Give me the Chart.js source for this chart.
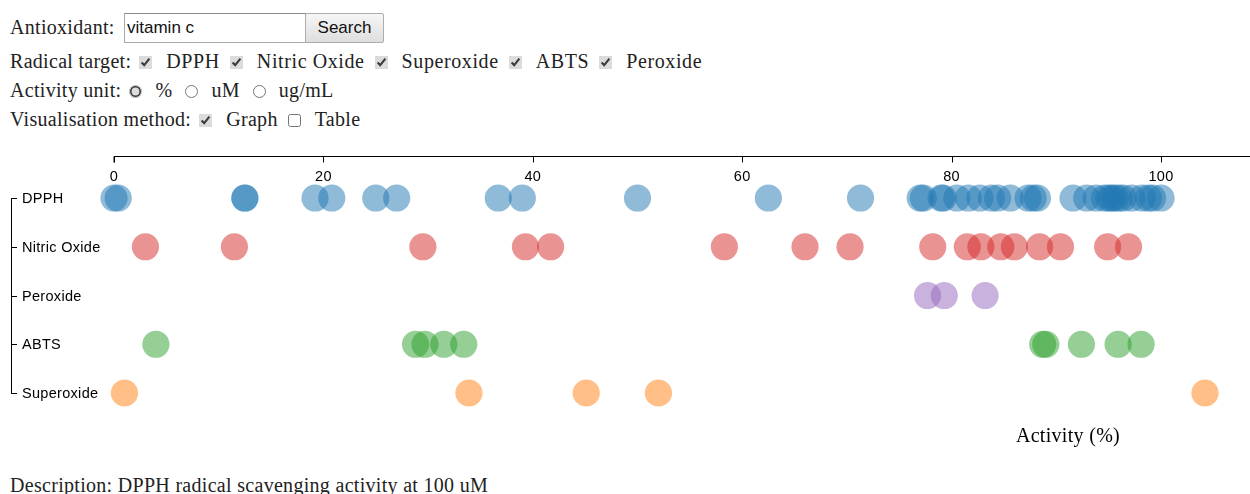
<!DOCTYPE html>
<html>
<head>
<meta charset="utf-8">
<script src="https://cdn.jsdelivr.net/npm/chart.js@4.4.0/dist/chart.umd.min.js"></script>
<style>
  body { margin: 0; background: #fff; color: #222; font-family: "Liberation Serif", "Times New Roman", serif; font-size: 20px; letter-spacing: 0.3px; }
  .row { position: absolute; left: 10px; white-space: nowrap; line-height: 23px; }
  .row input[type=checkbox], .row input[type=radio] {
    accent-color: #dcdcdc; width: 13px; height: 13px; margin: 0 14px 0 10px; vertical-align: -1px;
  }
  .row .opt { letter-spacing: 0.6px; }
  .row input[type=radio] { margin: 0 13px 0 13px; }
  .row input.first { margin-left: 8px; }
  #q { position: absolute; left: 124px; top: 13px; width: 182px; height: 30px; box-sizing: border-box; letter-spacing: 0;
       border: 1px solid #a9a9a9; border-top-color: #888; font: 17px "Liberation Sans", Arial, sans-serif; padding: 0 2px; color: #111; }
  #go { position: absolute; left: 305px; top: 13px; width: 79px; height: 30px; box-sizing: border-box; letter-spacing: 0;
        border: 1px solid #adadad; border-radius: 2px; background: linear-gradient(#f6f6f6, #dedede);
        font: 17px "Liberation Sans", Arial, sans-serif; color: #111; padding: 0; }
  #chartBox { position: absolute; left: 0; top: 140px; width: 1250px; height: 320px; }
  #desc { position: absolute; left: 10px; top: 474px; line-height: 23px; white-space: nowrap; }
</style>
</head>
<body>
<div class="row" style="top:16px">Antioxidant:</div>
<input id="q" type="text" value="vitamin c">
<button id="go">Search</button>
<div class="row" style="top:50px">Radical target:<input type="checkbox" class="first" checked><span class="opt">DPPH</span><input type="checkbox" checked><span class="opt">Nitric Oxide</span><input type="checkbox" checked><span class="opt">Superoxide</span><input type="checkbox" checked><span class="opt">ABTS</span><input type="checkbox" checked><span class="opt">Peroxide</span></div>
<div class="row" style="top:79px">Activity unit:<input type="radio" name="u" class="first" checked>%<input type="radio" name="u">uM<input type="radio" name="u">ug/mL</div>
<div class="row" style="top:108px">Visualisation method:<input type="checkbox" class="first" checked>Graph<input type="checkbox">Table</div>
<div id="chartBox"><canvas id="strip" width="1250" height="320"></canvas></div>
<div id="desc">Description: DPPH radical scavenging activity at 100 uM</div>
<script>
const categories = ['DPPH', 'Nitric Oxide', 'Peroxide', 'ABTS', 'Superoxide']
const xTicks = [0, 20, 40, 60, 80, 100]

const dpph = [0, 0.4, 12.5, 12.5, 19.2, 20.8, 25.0, 27.0, 36.7, 39.0, 50.0, 62.5, 71.3,
  77.0, 77.3, 79.0, 79.2, 80.5, 81.6, 82.7, 83.8, 84.4, 85.6, 87.3, 87.8, 88.2,
  91.6, 92.9, 93.8, 94.6, 95.0, 95.3, 95.6, 96.0, 96.4, 97.2, 98.2, 98.8, 99.2, 100.0]
const nitricOxide = [3.0, 11.5, 29.5, 39.3, 41.7, 58.3, 66.0, 70.3, 78.2, 81.5, 82.8, 84.7, 86.0, 88.4, 90.4, 94.9, 96.9]
const peroxide = [77.7, 79.3, 83.2]
const abts = [4.0, 28.8, 29.7, 31.5, 33.4, 88.7, 89.0, 92.4, 95.9, 98.1]
const superoxide = [1.0, 33.9, 45.1, 52.0, 104.2]

const seriesValues = [dpph, nitricOxide, peroxide, abts, superoxide]
const seriesColors = [
  'rgba(31,119,180,0.5)',
  'rgba(214,39,40,0.5)',
  'rgba(148,103,189,0.5)',
  'rgba(44,160,44,0.5)',
  'rgba(255,127,14,0.5)'
]

// axes drawn d3-style: top axis with ticks pointing down, bracket on the left
const stripAxes = {
  id: 'stripAxes',
  afterDraw(chart) {
    const ctx = chart.ctx
    const xs = chart.scales.x
    const ys = chart.scales.y
    const top = chart.chartArea.top + 0.5
    ctx.save()
    ctx.strokeStyle = '#000'
    ctx.lineWidth = 1
    ctx.beginPath()
    ctx.moveTo(xs.getPixelForValue(0), top + 6)
    ctx.lineTo(xs.getPixelForValue(0), top)
    ctx.lineTo(chart.width, top)
    xTicks.forEach(t => {
      const px = Math.round(xs.getPixelForValue(t)) + 0.5
      ctx.moveTo(px, top)
      ctx.lineTo(px, top + 6)
    })
    ctx.stroke()
    ctx.fillStyle = '#000'
    ctx.font = '14.5px "Liberation Sans", Arial, sans-serif'
    ctx.textAlign = 'center'
    ctx.textBaseline = 'middle'
    xTicks.forEach(t => ctx.fillText(String(t), xs.getPixelForValue(t), top + 20))

    const y0 = Math.round(ys.getPixelForValue(0)) + 0.5
    const y1 = Math.round(ys.getPixelForValue(categories.length - 1)) + 0.5
    ctx.beginPath()
    ctx.moveTo(17, y0)
    ctx.lineTo(11.5, y0)
    ctx.lineTo(11.5, y1)
    ctx.lineTo(17, y1)
    categories.forEach((c, i) => {
      const py = Math.round(ys.getPixelForValue(i)) + 0.5
      ctx.moveTo(11.5, py)
      ctx.lineTo(17, py)
    })
    ctx.stroke()
    ctx.textAlign = 'left'
    categories.forEach((c, i) => ctx.fillText(c, 22, ys.getPixelForValue(i) + 1))

    ctx.font = '20px "Liberation Serif", "Times New Roman", serif'
    ctx.textAlign = 'center'
    ctx.fillText('Activity (%)', 1068, 297)
    ctx.restore()
  }
}

new Chart(document.querySelector('#strip'), {
  type: 'scatter',
  plugins: [stripAxes],
  data: {
    datasets: categories.map((c, i) => ({
      label: c,
      data: seriesValues[i].map(v => ({ x: v, y: i })),
      backgroundColor: seriesColors[i],
      borderWidth: 0,
      pointRadius: 13.6,
      pointHoverRadius: 13.6,
      clip: false
    }))
  },
  options: {
    responsive: false,
    animation: false,
    devicePixelRatio: 1,
    events: [],
    layout: { autoPadding: false, padding: { left: 114, right: 0, top: 16, bottom: 20 } },
    scales: {
      x: { type: 'linear', min: 0, max: 108.5, display: false },
      y: { type: 'linear', reverse: true, min: -0.862, max: 4.964, display: false }
    },
    plugins: {
      legend: { display: false },
      tooltip: { enabled: false }
    }
  }
})
</script>
</body>
</html>
